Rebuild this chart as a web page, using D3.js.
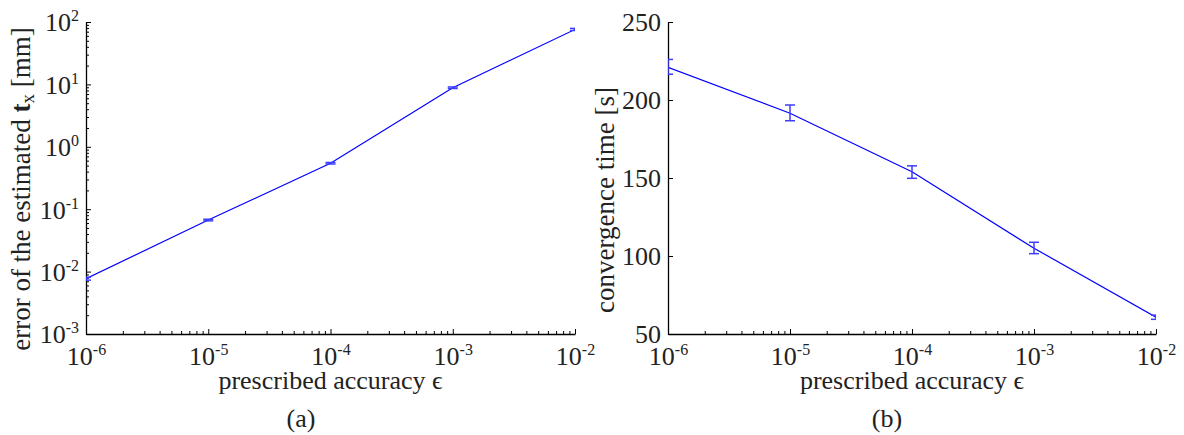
<!DOCTYPE html>
<html>
<head>
<meta charset="utf-8">
<script src="https://cdn.jsdelivr.net/npm/d3@7"></script>
<style>
	body { margin: 0; background: #fff; }
	svg { display: block; }
</style>
</head>
<body>
<div id="chart"></div>
<script>
// prescribed accuracy (x values, both panels)
const epsilon = [1e-6, 1e-5, 1e-4, 1e-3, 1e-2];

// (a) error of the estimated t_x [mm]
const error_mean = [0.0077, 0.067, 0.545, 8.85, 76];
const error_low = [0.0073, 0.065, 0.53, 8.6, 73];
const error_high = [0.0081, 0.069, 0.56, 9.1, 79];

// (b) convergence time [s]
const time_mean = [221, 191.5, 154, 105, 60.7];
const time_low = [216.5, 186.7, 149.8, 101.5, 59.4];
const time_high = [226, 196.8, 157.8, 108.8, 62.1];

const x_exponents = [-6, -5, -4, -3, -2];
const y_exponents_a = [-3, -2, -1, 0, 1, 2];
const y_ticks_b = [50, 100, 150, 200, 250];

const width = 1184;
const height = 435;
const plot_top = 22;
const plot_bottom = 334;
const cap = 5;
const serif = 'Liberation Serif';
const ink = '#222';

const svg = d3.select('#chart').append('svg')
	.attr('width', width)
	.attr('height', height);

// minor ticks for log axes: 2..9 within each decade
const minor_values = (lo, hi) => {
	const res = [];
	for (let e = lo; e < hi; e++) {
		for (let m = 2; m <= 9; m++) res.push(m * Math.pow(10, e));
	}
	return res;
};

const power_label = (sel, exps) => {
	sel.each(function(d, i) {
		const t = d3.select(this);
		t.text(null);
		t.append('tspan').text('10');
		t.append('tspan')
			.attr('dy', -10)
			.attr('font-size', '16px')
			.text(exps[i]);
	});
};

const panel = ({ left, right, y, y_ticks, y_minor, y_format, mean, low, high, y_label, y_label_x, y_label_y, tag, tag_x, id }) => {
	const x = d3.scaleLog().domain([1e-6, 1e-2]).range([left, right]);

	const g = svg.append('g');

	g.append('clipPath').attr('id', id)
		.append('rect')
		.attr('x', left).attr('y', plot_top)
		.attr('width', right - left).attr('height', plot_bottom - plot_top);

	// x axis
	const x_axis = g.append('g')
		.attr('transform', `translate(0,${plot_bottom})`)
		.call(d3.axisBottom(x).tickValues(epsilon).tickSize(-5).tickSizeOuter(0))
		.attr('font-family', serif);
	x_axis.select('.domain').attr('stroke', '#000').attr('stroke-width', 1.3);
	x_axis.selectAll('.tick line').attr('stroke', '#000');
	x_axis.selectAll('.tick text')
		.attr('y', 31).attr('dy', 0)
		.attr('font-size', '26px')
		.attr('fill', ink)
		.call(power_label, x_exponents);

	g.append('g')
		.attr('transform', `translate(0,${plot_bottom})`)
		.call(d3.axisBottom(x).tickValues(minor_values(-6, -2)).tickSize(-3).tickSizeOuter(0).tickFormat(''))
		.call(a => a.select('.domain').remove())
		.selectAll('.tick line').attr('stroke', '#000');

	// y axis
	const y_axis = g.append('g')
		.attr('transform', `translate(${left},0)`)
		.call(d3.axisLeft(y).tickValues(y_ticks).tickSize(-5).tickSizeOuter(0))
		.attr('font-family', serif);
	y_axis.select('.domain').attr('stroke', '#000').attr('stroke-width', 1.3);
	y_axis.selectAll('.tick line').attr('stroke', '#000');
	const y_text = y_axis.selectAll('.tick text')
		.attr('x', -7).attr('dy', '0.34em')
		.attr('font-size', '26px')
		.attr('fill', ink);
	if (y_format) y_text.call(power_label, y_format);

	if (y_minor) {
		g.append('g')
			.attr('transform', `translate(${left},0)`)
			.call(d3.axisLeft(y).tickValues(y_minor).tickSize(-3).tickSizeOuter(0).tickFormat(''))
			.call(a => a.select('.domain').remove())
			.selectAll('.tick line').attr('stroke', '#000');
	}

	// data
	const plot = g.append('g').attr('clip-path', `url(#${id})`);

	plot.append('path')
		.datum(epsilon.map((e, i) => [e, mean[i]]))
		.attr('fill', 'none')
		.attr('stroke', '#0000ff')
		.attr('stroke-width', 1.2)
		.attr('d', d3.line().x(d => x(d[0])).y(d => y(d[1])));

	const bars = plot.append('g')
		.attr('stroke', '#3d3dff')
		.attr('stroke-width', 1.5)
		.selectAll('g')
		.data(epsilon.map((e, i) => ({ e, lo: low[i], hi: high[i] })))
		.enter()
		.append('g');

	bars.append('line')
		.attr('x1', d => x(d.e)).attr('x2', d => x(d.e))
		.attr('y1', d => y(d.lo)).attr('y2', d => y(d.hi));
	bars.append('line')
		.attr('x1', d => x(d.e) - cap).attr('x2', d => x(d.e) + cap)
		.attr('y1', d => y(d.lo)).attr('y2', d => y(d.lo));
	bars.append('line')
		.attr('x1', d => x(d.e) - cap).attr('x2', d => x(d.e) + cap)
		.attr('y1', d => y(d.hi)).attr('y2', d => y(d.hi));

	// labels
	const text_style = t => t.attr('font-family', serif).attr('fill', ink);

	g.append('text')
		.call(text_style)
		.attr('x', (left + right) / 2)
		.attr('y', 389)
		.attr('text-anchor', 'middle')
		.attr('font-size', '26px')
		.text('prescribed accuracy ϵ');

	const yl = g.append('text')
		.call(text_style)
		.attr('transform', `translate(${y_label_x},${y_label_y}) rotate(-90)`)
		.attr('text-anchor', 'middle')
		.attr('font-size', '27px');
	y_label(yl);

	g.append('text')
		.call(text_style)
		.attr('x', tag_x)
		.attr('y', 427)
		.attr('text-anchor', 'middle')
		.attr('font-size', '26px')
		.text(tag);
};

const y_a = d3.scaleLog().domain([1e-3, 1e2]).range([plot_bottom, plot_top]);
const y_b = d3.scaleLinear().domain([50, 250]).range([plot_bottom, plot_top]);

panel({
	left: 86, right: 575, y: y_a,
	y_ticks: y_exponents_a.map(e => Math.pow(10, e)),
	y_minor: minor_values(-3, 2),
	y_format: y_exponents_a,
	mean: error_mean, low: error_low, high: error_high,
	y_label: t => {
		t.append('tspan').text('error of the estimated ');
		t.append('tspan').attr('font-weight', 'bold').text('t');
		t.append('tspan').attr('font-size', '19px').attr('dy', 4).text('x');
		t.append('tspan').attr('dy', -4).text('  [mm]');
	},
	y_label_x: 30, y_label_y: 189, tag: '(a)', tag_x: 301, id: 'clip-a',
});

panel({
	left: 668, right: 1156, y: y_b,
	y_ticks: y_ticks_b,
	y_minor: null,
	y_format: null,
	mean: time_mean, low: time_low, high: time_high,
	y_label: t => t.text('convergence time [s]'),
	y_label_x: 614, y_label_y: 200, tag: '(b)', tag_x: 887, id: 'clip-b',
});
</script>
</body>
</html>
